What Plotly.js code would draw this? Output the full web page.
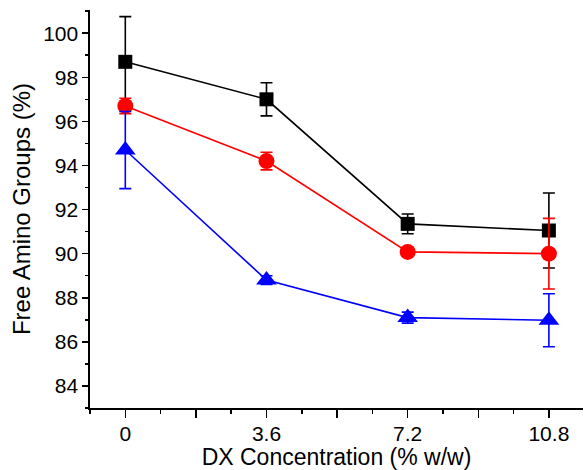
<!DOCTYPE html>
<html>
<head>
<meta charset="utf-8">
<script src="https://cdn.plot.ly/plotly-3.0.1.min.js"></script>
<style>html,body{margin:0;padding:0;background:#fff;}#chart{width:588px;height:470px;}</style>
</head>
<body>
<div id="chart"></div>
<script>
const xValues = [0, 3.6, 7.2, 10.8];
const blackValues = [98.7, 97.0, 91.35, 91.05];
const blackErrors = [2.05, 0.75, 0.45, 1.7];
const redValues = [96.7, 94.2, 90.08, 90.0];
const redErrors = [0.35, 0.4, 0.15, 1.6];
const blueValues = [94.7, 88.8, 87.1, 86.98];
const blueErrors = [1.75, 0.2, 0.25, 1.2];
const xTickVals = [0, 1.8, 3.6, 5.4, 7.2, 9, 10.8];
const xTickText = ['0', '', '3.6', '', '7.2', '', '10.8'];
const yTickVals = [84, 86, 88, 90, 92, 94, 96, 98, 100];

const FONT = 'Liberation Sans, Arial, sans-serif';

function series(y, err, color, symbol, size) {
  return {
    x: xValues, y: y, type: 'scatter', mode: 'lines+markers',
    line: {color: color, width: 1.6},
    marker: {color: color, symbol: symbol, size: size},
    error_y: {type: 'data', array: err, visible: true, color: color, thickness: 1.6, width: 6},
    showlegend: false, cliponaxis: false
  };
}

const data = [
  series(blackValues, blackErrors, '#000000', 'square', 14),
  series(redValues, redErrors, '#ff0000', 'circle', 16),
  series(blueValues, blueErrors, '#0000ff', 'triangle-up', 18)
];

const xr = [-0.9, 11.67];
const yr = [83.0, 101.05];

const layout = {
  width: 588, height: 470,
  margin: {l: 90, r: 5, t: 10, b: 62},
  paper_bgcolor: '#ffffff', plot_bgcolor: '#ffffff',
  font: {family: FONT, color: '#000000', size: 21},
  xaxis: {
    range: xr, tickmode: 'array', tickvals: xTickVals, ticktext: xTickText,
    ticks: 'outside', ticklen: 8, tickwidth: 1.5, tickcolor: '#000',
    minor: {dtick: 0.9, tick0: 0, ticks: 'outside', ticklen: 4, tickwidth: 1.5, tickcolor: '#000'},
    showline: true, linecolor: '#000', linewidth: 1.6, showgrid: false, zeroline: false,
    tickfont: {size: 21}, ticklabelstandoff: -2,
    title: {text: 'DX Concentration (% w/w)', font: {size: 23}, standoff: 0}
  },
  yaxis: {
    range: yr, tickmode: 'array', tickvals: yTickVals,
    ticks: 'outside', ticklen: 6, tickwidth: 1.5, tickcolor: '#000',
    minor: {dtick: 1, tick0: 0, ticks: 'outside', ticklen: 3, tickwidth: 1.5, tickcolor: '#000'},
    showline: true, linecolor: '#000', linewidth: 1.6, showgrid: false, zeroline: false,
    tickfont: {size: 21},
    title: {text: 'Free Amino Groups (%)', font: {size: 24}, standoff: 6}
  },
  xaxis2: {
    overlaying: 'x', side: 'top', range: xr, tickmode: 'array', tickvals: xTickVals,
    showticklabels: false, ticks: 'inside', ticklen: 6, tickwidth: 1.5, tickcolor: '#000',
    minor: {dtick: 0.9, tick0: 0, ticks: 'inside', ticklen: 3, tickwidth: 1.5, tickcolor: '#000'},
    showline: true, linecolor: '#000', linewidth: 1.6, showgrid: false, zeroline: false
  },
  yaxis2: {
    overlaying: 'y', side: 'right', range: yr, tickmode: 'array', tickvals: yTickVals,
    showticklabels: false, ticks: 'inside', ticklen: 6, tickwidth: 1.5, tickcolor: '#000',
    minor: {dtick: 1, tick0: 0, ticks: 'inside', ticklen: 3, tickwidth: 1.5, tickcolor: '#000'},
    showline: true, linecolor: '#000', linewidth: 1.6, showgrid: false, zeroline: false
  }
};

Plotly.newPlot('chart', data, layout, {staticPlot: true, displayModeBar: false});
</script>
</body>
</html>
